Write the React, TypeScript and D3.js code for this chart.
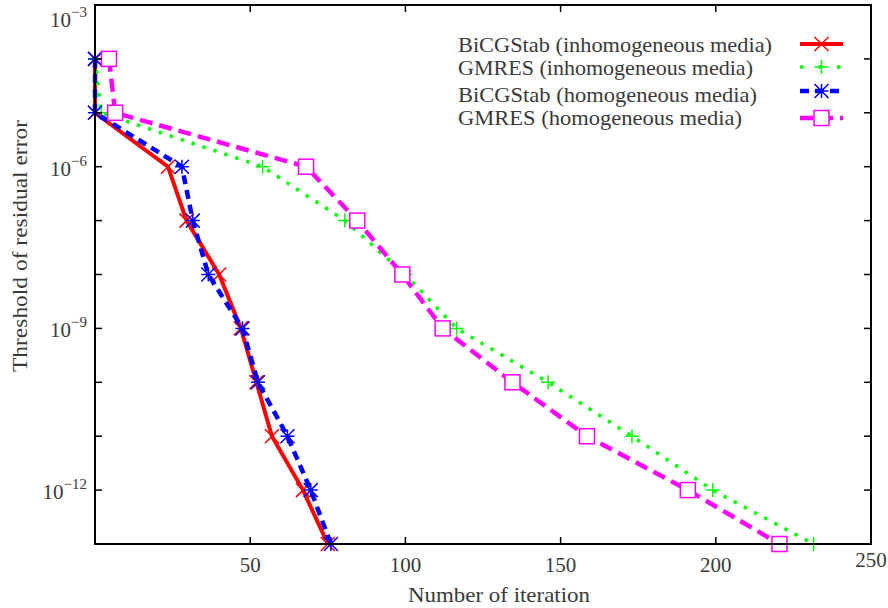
import React from "react";
import * as d3 from "d3";

const thresholds = [1e-4, 1e-5, 1e-6, 1e-7, 1e-8, 1e-9, 1e-10, 1e-11, 1e-12, 1e-13];
const bicgInhom = [0, 0, 23.5, 29.5, 40, 47, 52, 57, 67, 75];
const gmresInhom = [0, 2, 54, 80.5, 100, 116.5, 146, 173, 199, 231.5];
const bicgHom = [0, 0, 28, 31.5, 36.5, 47.5, 52.5, 62, 69.5, 76];
const gmresHom = [4.5, 6.5, 68, 84.5, 99, 112, 134.5, 158.5, 191, 220.5];

const seriesNames = [
  "BiCGStab (inhomogeneous media)",
  "GMRES (inhomogeneous media)",
  "BiCGStab (homogeneous media)",
  "GMRES (homogeneous media)",
];
const xTicks = [50, 100, 150, 200, 250];
const yMajorExps = [-3, -6, -9, -12];
const yMinorExps = [-4, -5, -7, -8, -10, -11, -13];

const FONT = '"Liberation Serif", "DejaVu Serif", "Times New Roman", serif';
const TEXT = "#3a3a3a";

type Marker = "x" | "plus" | "star" | "square";
const styles = [
  { color: "#ff0000", width: 4, dash: "", marker: "x" as Marker },
  { color: "#00ff00", width: 3.5, dash: "3.5 8", marker: "plus" as Marker },
  { color: "#0000ff", width: 4.5, dash: "9 6", marker: "star" as Marker },
  { color: "#ff00ff", width: 4.5, dash: "13 7", marker: "square" as Marker },
];

const legendTextLen = [314, 295, 299, 284];
const legendBase = [52, 75, 102, 125];
const legendSampleY = [44, 67, 91, 118];

function MarkerShape({ type, cx, cy, color }: { type: Marker; cx: number; cy: number; color: string }) {
  const s = 7;
  if (type === "x") {
    return (
      <path d={`M${cx - s},${cy - s}L${cx + s},${cy + s}M${cx - s},${cy + s}L${cx + s},${cy - s}`} stroke={color} strokeWidth={1.5} fill="none" />
    );
  }
  if (type === "plus") {
    return <path d={`M${cx - s},${cy}L${cx + s},${cy}M${cx},${cy - s}L${cx},${cy + s}`} stroke={color} strokeWidth={1.5} fill="none" />;
  }
  if (type === "star") {
    return (
      <path
        d={`M${cx - s},${cy - s}L${cx + s},${cy + s}M${cx - s},${cy + s}L${cx + s},${cy - s}M${cx - s},${cy}L${cx + s},${cy}M${cx},${cy - s}L${cx},${cy + s}`}
        stroke={color}
        strokeWidth={1.5}
        fill="none"
      />
    );
  }
  return <rect x={cx - 7.5} y={cy - 7.5} width={15} height={15} stroke={color} strokeWidth={1.5} fill="white" />;
}

export default function App() {
  const W = 888, H = 608;
  const L = 95, R = 871, T = 5, B = 544;
  const x = d3.scaleLinear().domain([0, 250]).range([L, R]);
  const y = d3.scaleLog().domain([1e-13, 1e-3]).range([B, T]);
  const all = [bicgInhom, gmresInhom, bicgHom, gmresHom];
  const line = d3
    .line<[number, number]>()
    .x((d) => x(d[0]))
    .y((d) => y(d[1]));

  const tick = 7;
  const ts: React.CSSProperties = { fontFamily: FONT };

  return (
    <svg width={W} height={H} style={{ position: "absolute", left: 0, top: 0, background: "white", fontFamily: FONT }}>
      <rect width={W} height={H} fill="white" />
      {all.map((xs, i) => {
        const st = styles[i];
        const pts = xs.map((v, j) => [v, thresholds[j]] as [number, number]);
        return (
          <g key={i}>
            <path d={line(pts) || ""} fill="none" stroke={st.color} strokeWidth={st.width} strokeDasharray={st.dash} />
            {pts.map((p, j) => (
              <MarkerShape key={j} type={st.marker} cx={x(p[0])} cy={y(p[1])} color={st.color} />
            ))}
          </g>
        );
      })}
      <rect x={L} y={T} width={R - L} height={B - T} fill="none" stroke="black" strokeWidth={2} />
      {xTicks.map((t) => (
        <g key={t}>
          <line x1={x(t)} x2={x(t)} y1={B} y2={B - tick} stroke="black" strokeWidth={1.5} />
          <line x1={x(t)} x2={x(t)} y1={T} y2={T + tick} stroke="black" strokeWidth={1.5} />
          <text style={ts} x={x(t)} y={t === 250 ? 567 : 572} textAnchor="middle" fontSize={21} fill={TEXT}>
            {t}
          </text>
        </g>
      ))}
      {[...yMajorExps, ...yMinorExps].map((e) => (
        <g key={e}>
          <line x1={L} x2={L + tick} y1={y(Math.pow(10, e))} y2={y(Math.pow(10, e))} stroke="black" strokeWidth={1.5} />
          <line x1={R} x2={R - tick} y1={y(Math.pow(10, e))} y2={y(Math.pow(10, e))} stroke="black" strokeWidth={1.5} />
        </g>
      ))}
      {yMajorExps.map((e) => {
        const yy = y(Math.pow(10, e));
        const base = e === -3 ? 27 : yy + 9;
        return (
          <text style={ts} key={e} x={87} y={base} textAnchor="end" fontSize={21} fill={TEXT}>
            10
            <tspan fontSize={15} dy={-10}>
              {"\u2212" + String(-e)}
            </tspan>
          </text>
        );
      })}
      <text style={ts} x={499} y={602} textAnchor="middle" fontSize={21} fill={TEXT} textLength={182} lengthAdjust="spacingAndGlyphs">
        Number of iteration
      </text>
      <text
        style={ts}
        transform={`translate(27,246) rotate(-90)`}
        textAnchor="middle"
        fontSize={21}
        fill={TEXT}
        textLength={252}
        lengthAdjust="spacingAndGlyphs"
      >
        Threshold of residual error
      </text>
      {seriesNames.map((nm, i) => {
        const st = styles[i];
        const sy = legendSampleY[i];
        return (
          <g key={nm}>
            <text style={ts} x={458} y={legendBase[i]} fontSize={21} fill={TEXT} textLength={legendTextLen[i]} lengthAdjust="spacingAndGlyphs">
              {nm}
            </text>
            <line x1={800} x2={843} y1={sy} y2={sy} stroke={st.color} strokeWidth={st.width} strokeDasharray={i === 1 ? "3.5 15" : st.dash} />
            <MarkerShape type={st.marker} cx={821.5} cy={sy} color={st.color} />
          </g>
        );
      })}
    </svg>
  );
}
